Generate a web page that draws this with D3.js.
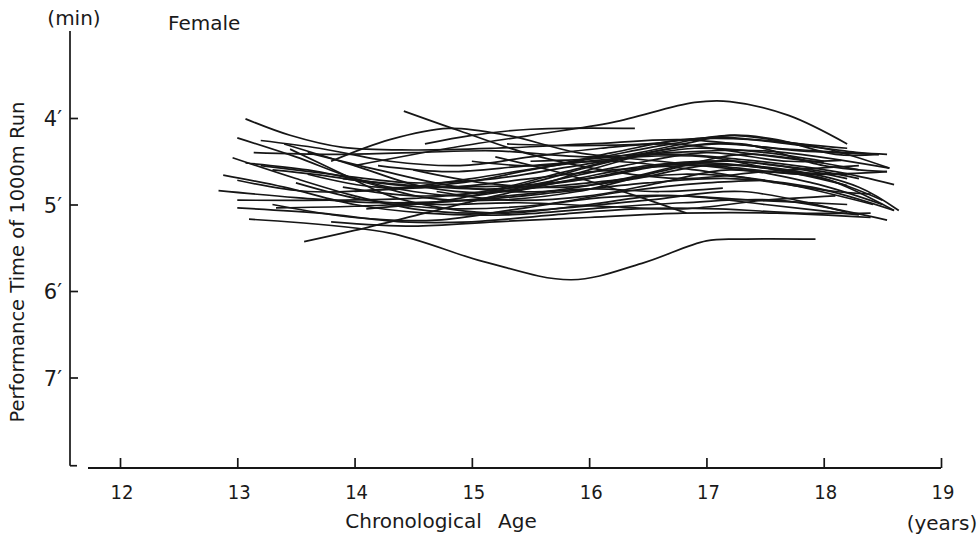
<!DOCTYPE html>
<html><head><meta charset="utf-8">
<script src="https://cdn.jsdelivr.net/npm/d3@7"></script>
<style>
html,body{margin:0;padding:0;background:#fff;}
text{font-family:"DejaVu Sans",sans-serif;fill:#1a1a1a;}
</style></head>
<body>
<svg id="c" width="979" height="538"></svg>
<script>
// ages (years) and performance times (minutes) for each individual girl
const xTicks = [12,13,14,15,16,17,18,19];
const yTicks = [4,5,6,7];
const yTickLabels = ["4′","5′","6′","7′"];

const c01 = [[13.1,5.17],[14.3,5.33],[15.1,5.66],[15.85,5.87],[16.45,5.68],[17.0,5.42],[17.3,5.4],[17.93,5.4]];
const c02 = [[14.0,4.55],[14.8,4.35],[15.5,4.2],[16.2,4.05],[16.9,3.82],[17.2,3.81],[17.7,3.97],[18.2,4.3]];
const c03 = [[14.42,3.92],[14.9,4.15],[15.5,4.42],[16.2,4.62],[16.8,4.7],[17.5,4.62],[18.3,4.55]];
const c04 = [[13.8,4.5],[14.3,4.25],[14.8,4.12],[15.3,4.2],[15.9,4.4],[16.6,4.5],[17.3,4.6],[18.0,4.7],[18.6,5.07]];
const c05 = [[14.6,4.3],[15.0,4.2],[15.5,4.13],[16.39,4.12]];
const c06 = [[13.07,4.01],[13.45,4.2],[13.9,4.34],[14.5,4.37],[15.2,4.35],[16.0,4.3],[16.8,4.25],[17.6,4.35],[18.47,4.42]];
const c07 = [[13.0,4.23],[13.5,4.45],[14.0,4.7],[14.5,4.85],[15.0,4.9],[15.6,4.75],[16.3,4.55],[17.0,4.4],[17.7,4.5],[18.15,4.49]];
const c08 = [[13.14,4.40],[13.8,4.42],[14.5,4.4],[15.2,4.38],[16.0,4.45],[16.7,4.4],[17.5,4.38],[18.56,4.58]];
const c09 = [[12.96,4.46],[13.5,4.7],[14.0,4.9],[14.5,5.05],[15.0,5.1],[15.7,5.05],[16.5,4.95],[17.3,4.85],[18.2,5.09]];
const c10 = [[13.07,4.52],[13.6,4.6],[14.2,4.75],[14.8,4.8],[15.5,4.7],[16.2,4.6],[17.0,4.55],[17.8,4.65],[18.54,4.62]];
const c11 = [[12.88,4.66],[13.4,4.8],[14.0,5.0],[14.6,5.1],[15.3,5.12],[16.0,5.05],[16.8,4.98],[17.6,4.95],[18.54,5.18]];
const c12 = [[12.84,4.84],[13.5,4.92],[14.2,4.98],[15.0,4.95],[15.8,4.85],[16.5,4.75],[17.2,4.7],[17.9,4.8],[18.6,5.07]];
const c13 = [[13.0,4.95],[13.8,4.95],[14.5,4.93],[15.2,4.85],[16.0,4.75],[16.8,4.65],[17.5,4.72],[18.42,5.0]];
const c14 = [[13.0,5.04],[13.7,5.1],[14.4,5.2],[15.0,5.2],[15.7,5.12],[16.4,5.05],[17.1,5.05],[17.8,5.1],[18.4,5.1]];
const c15 = [[13.57,5.43],[14.0,5.3],[14.6,5.1],[15.2,4.9],[15.9,4.7],[16.5,4.55],[17.2,4.5],[17.9,4.6],[18.3,4.7]];
const c16 = [[13.45,4.36],[13.9,4.65],[14.3,4.9],[14.8,5.05],[15.3,5.1],[16.0,5.0],[16.6,4.9],[17.4,4.95],[18.2,5.0]];
const c17 = [[13.33,5.04],[14.0,5.02],[14.7,4.98],[15.3,4.9],[16.0,4.82],[16.6,4.85],[17.14,4.81]];
const c18 = [[15.2,4.45],[15.8,4.65],[16.4,4.9],[16.83,5.1]];
const c19 = [[13.4,4.3],[14.0,4.55],[14.6,4.8],[15.3,4.85],[16.0,4.6],[16.7,4.35],[17.3,4.3],[18.0,4.55],[18.54,4.62]];
const c20 = [[13.2,4.55],[13.8,4.65],[14.5,4.75],[15.2,4.7],[15.9,4.55],[16.6,4.42],[17.3,4.48],[18.1,4.62],[18.6,4.77]];
const c21 = [[13.6,4.4],[14.2,4.6],[14.9,4.8],[15.6,4.85],[16.3,4.7],[17.0,4.5],[17.6,4.55],[18.2,4.7]];
const c22 = [[14.1,5.05],[14.8,4.95],[15.5,4.75],[16.2,4.5],[16.9,4.35],[17.5,4.4],[18.0,4.5]];
const c23 = [[13.3,5.0],[14.0,5.15],[14.7,5.18],[15.4,5.05],[16.1,4.92],[16.8,4.9],[17.5,5.0],[18.3,5.12]];
const c24 = [[14.5,4.6],[15.1,4.75],[15.8,4.8],[16.4,4.7],[17.0,4.55],[17.7,4.6],[18.3,4.8],[18.64,5.07]];
const c25 = [[13.9,4.8],[14.5,4.9],[15.1,4.85],[15.8,4.62],[16.5,4.4],[17.1,4.3],[17.8,4.38],[18.47,4.42]];
const c26 = [[15.0,4.5],[15.6,4.55],[16.2,4.4],[16.8,4.25],[17.4,4.25],[18.0,4.35],[18.56,4.58]];
const c27 = [[14.7,4.85],[15.3,4.95],[16.0,4.9],[16.6,4.75],[17.2,4.6],[17.9,4.75],[18.5,5.0]];
const c28 = [[13.6,4.65],[14.2,4.8],[14.9,4.75],[15.5,4.6],[16.1,4.45],[16.7,4.3],[17.2,4.2],[17.8,4.3],[18.2,4.35]];
const c29 = [[13.0,4.72],[13.6,4.85],[14.3,4.82],[15.0,4.7],[15.7,4.55],[16.4,4.45],[17.0,4.45],[17.7,4.62],[18.2,4.65]];
const c30 = [[14.2,4.55],[14.8,4.62],[15.5,4.55],[16.2,4.5],[16.9,4.6],[17.6,4.75],[18.1,4.85],[18.4,4.88]];
const c31 = [[13.8,5.2],[14.5,5.25],[15.2,5.2],[16.0,5.15],[16.8,5.1],[17.6,5.1],[18.4,5.15]];
const c32 = [[15.3,4.3],[15.9,4.32],[16.5,4.3],[17.1,4.22],[17.7,4.3],[18.3,4.4],[18.54,4.42]];
const c33 = [[15.5,4.5],[16.2,4.45],[16.8,4.3],[17.2,4.2],[17.6,4.25],[18.1,4.42],[18.47,4.42]];
const c34 = [[14.3,5.0],[14.9,5.05],[15.6,5.0],[16.3,4.85],[17.0,4.75],[17.5,4.72]];
const c35 = [[13.5,4.75],[14.1,4.95],[14.7,5.0],[15.4,4.98],[16.1,5.02],[16.8,5.05],[17.5,4.95],[18.1,4.9]];
const c36 = [[13.2,4.26],[13.7,4.35],[14.3,4.5],[14.9,4.55],[15.5,4.45],[16.1,4.35],[16.7,4.3],[17.3,4.4],[18.0,4.52]];
const c37 = [[13.9,4.7],[14.5,4.78],[15.2,4.82],[15.9,4.72],[16.6,4.55],[17.3,4.55],[18.0,4.7],[18.5,4.95]];
const c38 = [[14.0,4.85],[14.7,4.8],[15.4,4.78],[16.1,4.68],[16.8,4.52],[17.5,4.58],[18.2,4.78]];
const c39 = [[13.3,4.6],[14.0,4.72],[14.6,4.92],[15.2,4.95],[15.9,4.85],[16.6,4.62],[17.3,4.42],[17.9,4.5],[18.3,4.6]];

const curves = [c01,c02,c03,c04,c05,c06,c07,c08,c09,c10,c11,c12,c13,c14,c15,c16,c17,c18,c19,c20,
                c21,c22,c23,c24,c25,c26,c27,c28,c29,c30,c31,c32,c33,c34,c35,c36,c37,c38,c39];

const svg = d3.select("#c");
const x = d3.scaleLinear().domain([12,19]).range([120,941]);
const y = d3.scaleLinear().domain([4,8]).range([118,464]);
const ink = "#161616";

// y axis
svg.append("line").attr("x1",70).attr("x2",70).attr("y1",31).attr("y2",y(8.02))
  .attr("stroke",ink).attr("stroke-width",1.7);
svg.append("line").attr("x1",70).attr("x2",77).attr("y1",y(8.02)).attr("y2",y(8.02))
  .attr("stroke",ink).attr("stroke-width",1.7);
const yAxis = d3.axisRight(y).tickValues(yTicks).tickSize(8).tickFormat("");
const gy = svg.append("g").attr("transform","translate(70,0)").call(yAxis);
gy.select(".domain").remove();
gy.selectAll(".tick line").attr("stroke",ink).attr("stroke-width",1.7);
svg.selectAll(".ylab").data(yTicks).enter().append("text")
  .attr("x",62).attr("y",d=>y(d)+8).attr("text-anchor","end")
  .attr("font-size",21).text((d,i)=>yTickLabels[i]);

// x axis
const xAxisY = 468;
svg.append("line").attr("x1",88).attr("x2",x(19)).attr("y1",xAxisY).attr("y2",xAxisY)
  .attr("stroke",ink).attr("stroke-width",2);
const xAxis = d3.axisTop(x).tickValues(xTicks).tickSize(10).tickFormat("");
const gx = svg.append("g").attr("transform",`translate(0,${xAxisY})`).call(xAxis);
gx.select(".domain").remove();
gx.selectAll(".tick line").attr("stroke",ink).attr("stroke-width",1.7);
svg.selectAll(".xlab").data(xTicks).enter().append("text")
  .attr("x",d=>x(d)+2).attr("y",499).attr("text-anchor","middle")
  .attr("font-size",20).attr("font-family","'DejaVu Sans Condensed','DejaVu Sans',sans-serif")
  .attr("font-stretch","condensed").text(d=>d);

// titles
svg.append("text").attr("x",74).attr("y",25).attr("text-anchor","middle").attr("font-size",20).text("(min)");
svg.append("text").attr("x",168).attr("y",30).attr("font-size",20).text("Female");
svg.append("text").attr("transform","translate(24,262) rotate(-90)").attr("text-anchor","middle")
  .attr("font-size",19.5).text("Performance Time of 1000m Run");
svg.append("text").attr("x",441).attr("y",528).attr("text-anchor","middle").attr("font-size",20)
  .attr("word-spacing","10").text("Chronological Age");
svg.append("text").attr("x",942).attr("y",530).attr("text-anchor","middle").attr("font-size",20).text("(years)");

// individual curves
const line = d3.line().x(d=>x(d[0])).y(d=>y(d[1])).curve(d3.curveCatmullRom.alpha(0.5));
svg.append("g").selectAll("path").data(curves).enter().append("path")
  .attr("d",line).attr("fill","none").attr("stroke",ink).attr("stroke-width",1.7);
</script>
</body></html>
